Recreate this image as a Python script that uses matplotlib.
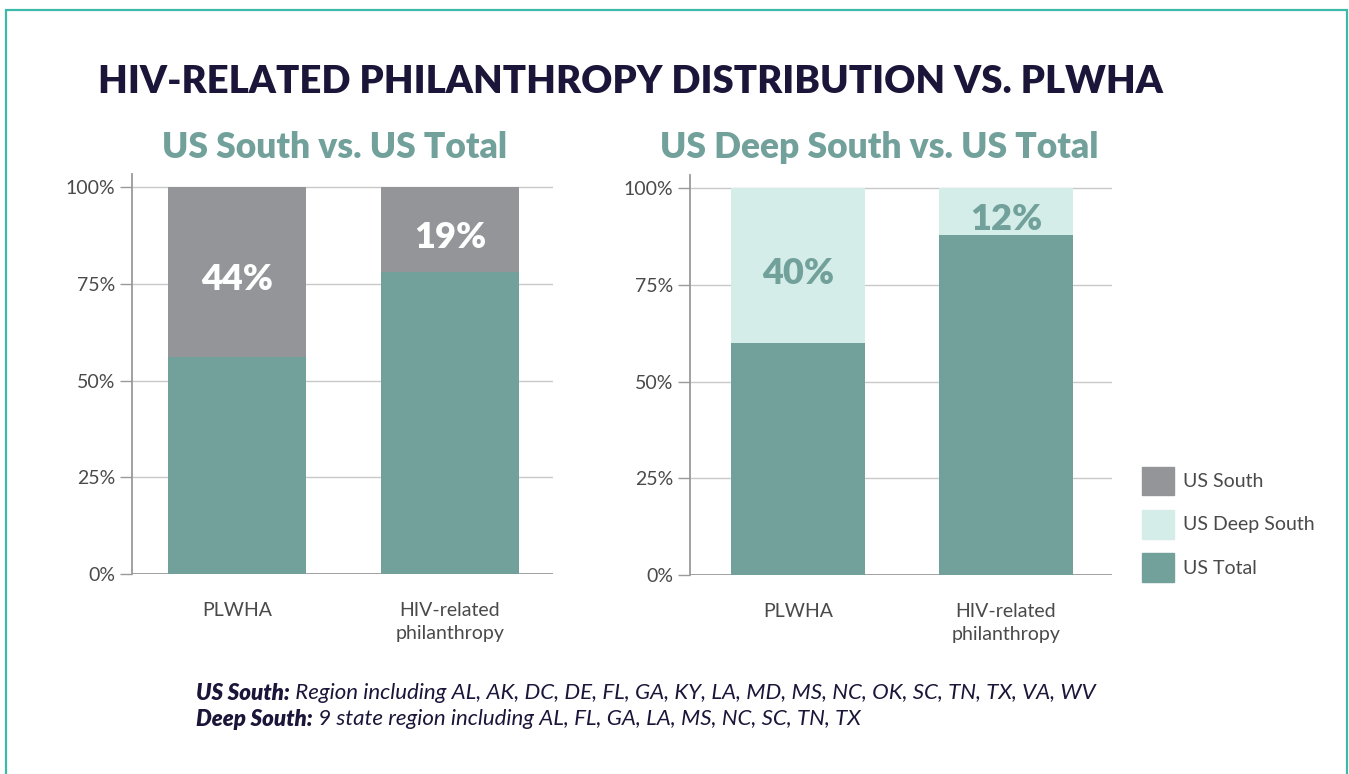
import matplotlib.pyplot as plt
from matplotlib.patches import Patch, Rectangle

plt.rcParams['font.family'] = ['Lato', 'DejaVu Sans']

categories = ["PLWHA", "HIV-related\nphilanthropy"]
south_total = [56, 78]
south_part = [44, 22]
south_labels = ["44%", "19%"]
deep_total = [60, 88]
deep_part = [40, 12]
deep_labels = ["40%", "12%"]
yticks = [0, 25, 50, 75, 100]
ytick_labels = ["0%", "25%", "50%", "75%", "100%"]

teal = "#72a19b"
gray = "#939598"
light = "#d5ede9"
navy = "#1b1639"
tick_col = "#4a4a4a"

fig = plt.figure(figsize=(13.49, 7.74), dpi=100)

# frame around the graphic
fig.patches.append(Rectangle((6 / 1349, -0.1), (1341) / 1349, 1.1 - 10 / 774,
                             transform=fig.transFigure, fill=False,
                             edgecolor="#3db9a9", linewidth=1.6))

fig.text(98 / 1349, 1 - 82 / 774, "HIV-RELATED PHILANTHROPY DISTRIBUTION VS. PLWHA",
         fontsize=27.5, fontweight="heavy", color=navy, va="center", ha="left")


def panel(rect, xlim, total, part, labels, part_color, label_color, subtitle, sub_x):
    ax = fig.add_axes(rect)
    x = range(len(categories))
    ax.bar(x, total, width=0.645, color=teal, zorder=3)
    ax.bar(x, part, bottom=total, width=0.645, color=part_color, zorder=3)
    for xi, t, p, lab in zip(x, total, part, labels):
        ax.text(xi, t + p / 2 - 2, lab, ha="center", va="center", fontsize=26,
                fontweight="heavy", color=label_color, zorder=4)
    ax.set_xlim(*xlim)
    ax.set_ylim(0, 103.4)
    ax.set_yticks(yticks)
    ax.set_yticklabels(ytick_labels, fontsize=14, color=tick_col)
    ax.set_xticks(list(x))
    ax.set_xticklabels(categories, fontsize=14, color=tick_col, linespacing=1.45)
    ax.tick_params(axis="x", length=0, pad=20)
    ax.tick_params(axis="y", length=9, color="#9a9a9a", width=1, pad=3)
    ax.grid(axis="y", color="#c8c8c8", linewidth=1, zorder=0)
    ax.axhline(0, color="#9a9a9a", linewidth=1.3, zorder=2)
    for s in ["top", "right", "bottom"]:
        ax.spines[s].set_visible(False)
    ax.spines["left"].set_color("#9a9a9a")
    ax.spines["left"].set_linewidth(1.3)
    fig.text(sub_x / 1349, 1 - 148 / 774, subtitle, fontsize=25.5, fontweight="heavy",
             color=teal, ha="center", va="center")
    return ax


ax1 = panel([132 / 1349, 1 - 574 / 774, 421 / 1349, 400 / 774], (-0.493, 1.484),
            south_total, south_part, south_labels, gray, "white",
            "US South vs. US Total", 335)
ax2 = panel([690 / 1349, 1 - 575 / 774, 422 / 1349, 400 / 774], (-0.52, 1.51),
            deep_total, deep_part, deep_labels, light, teal,
            "US Deep South vs. US Total", 879)

handles = [Patch(color=gray), Patch(color=light), Patch(color=teal)]
fig.legend(handles, ["US South", "US Deep South", "US Total"],
           loc="upper left", bbox_to_anchor=(1124 / 1349, 1 - 449 / 774),
           frameon=False, handlelength=1.65, handleheight=1.9,
           labelspacing=0.75, handletextpad=0.5, labelcolor=tick_col,
           prop={"size": 14})

notes = [("US South:", " Region including AL, AK, DC, DE, FL, GA, KY, LA, MD, MS, NC, OK, SC, TN, TX, VA, WV"),
         ("Deep South:", " 9 state region including AL, FL, GA, LA, MS, NC, SC, TN, TX")]
for i, (head, rest) in enumerate(notes):
    y = 1 - (693 + 26 * i) / 774
    t = fig.text(196 / 1349, y, head, fontsize=16, fontweight="heavy",
                 style="italic", color=navy, va="center")
    ax1.annotate(rest, xy=(1, 0.5), xycoords=t, va="center", ha="left",
                 fontsize=16, style="italic", color=navy, annotation_clip=False)

fig.savefig("out.png", dpi=100)
